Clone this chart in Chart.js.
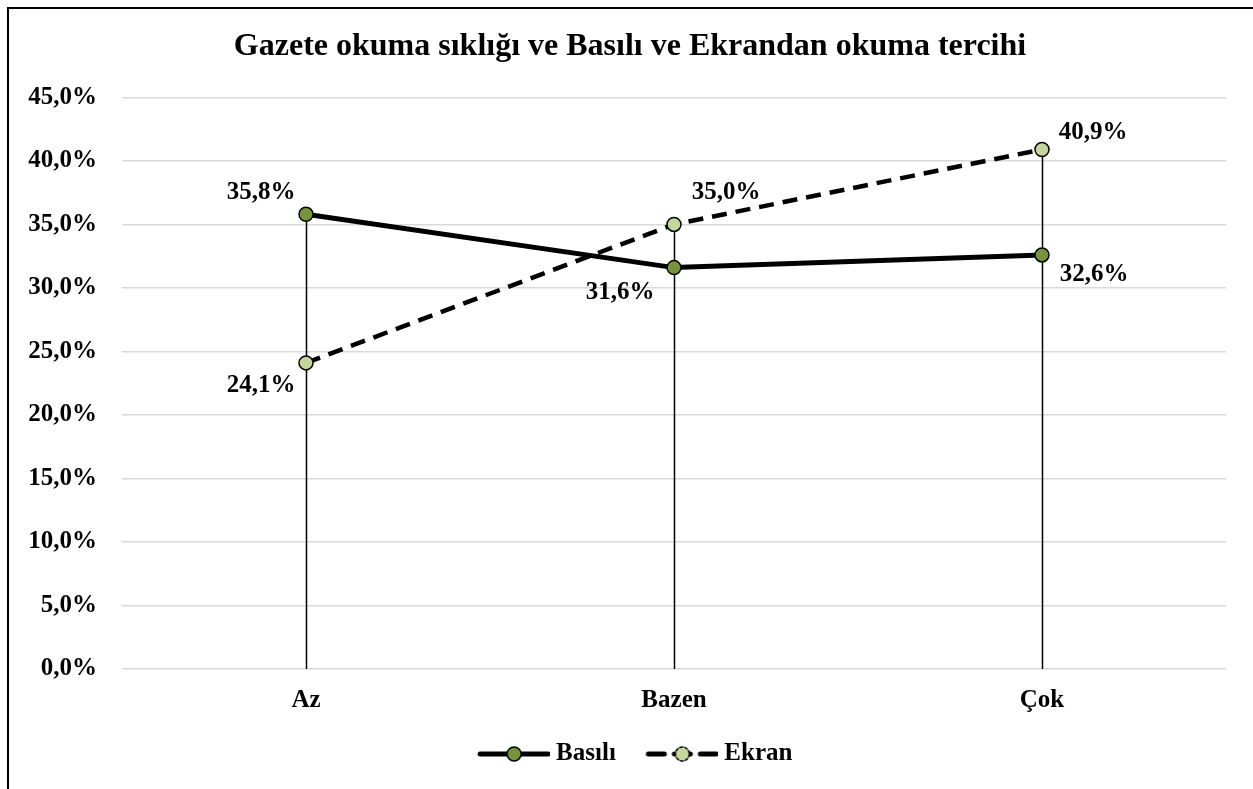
<!DOCTYPE html>
<html>
<head>
<meta charset="utf-8">
<script src="https://cdn.jsdelivr.net/npm/chart.js@4.4.1/dist/chart.umd.min.js"></script>
<style>
html, body { margin: 0; padding: 0; background: #fff; overflow: hidden; }
#kutu { position: absolute; left: 0; top: 0; width: 1253px; height: 789px; }
#cerceve { position: absolute; left: 7px; top: 7px; width: 1300px; height: 900px;
           border-left: 2px solid #000; border-top: 2px solid #000; pointer-events: none; }
</style>
</head>
<body>
<div id="kutu">
    <canvas id="lineChart" width="1253" height="789"></canvas>
    <div id="cerceve"></div>
</div>
<script>
var kategoriler = ['Az', 'Bazen', 'Çok'];
var basili      = [35.8, 31.6, 32.6];
var ekran       = [24.1, 35.0, 40.9];
var yTikleri    = [0, 5, 10, 15, 20, 25, 30, 35, 40, 45];

var yazi = '"Times New Roman", "Liberation Serif", serif';

function yuzde(v) {
    return v.toFixed(1).replace('.', ',') + '%';
}

// legend icons: line + marker like Excel (drawn at the right of a wider canvas)
function legendIkonu(dash, dolgu) {
    var c = document.createElement('canvas');
    c.width = 95; c.height = 20;
    var g = c.getContext('2d');
    var bas = 23;
    g.strokeStyle = '#000';
    g.lineWidth = 5;
    g.lineCap = 'round';
    g.setLineDash(dash);
    g.beginPath();
    g.moveTo(bas + 2, 10); g.lineTo(bas + 70, 10);
    g.stroke();
    g.setLineDash(dash.length ? [3, 2] : []);
    g.lineWidth = 1.5;
    g.fillStyle = dolgu;
    g.beginPath();
    g.arc(bas + 36, 10, 7, 0, Math.PI * 2);
    g.fill();
    g.stroke();
    return c;
}

// vertical drop lines from the highest point down to the axis
var dusenCizgiler = {
    id: 'dusenCizgiler',
    beforeDatasetsDraw: function(chart) {
        var ctx = chart.ctx;
        var alt = chart.scales.y.getPixelForValue(0);
        ctx.save();
        ctx.strokeStyle = '#000';
        ctx.lineWidth = 1.5;
        for (var j = 0; j < kategoriler.length; j++) {
            var enUst = alt;
            var x = 0;
            chart.data.datasets.forEach(function(ds, i) {
                var p = chart.getDatasetMeta(i).data[j];
                x = p.x;
                if (p.y < enUst) enUst = p.y;
            });
            ctx.beginPath();
            ctx.moveTo(Math.round(x) + 0.5, enUst);
            ctx.lineTo(Math.round(x) + 0.5, alt);
            ctx.stroke();
        }
        ctx.restore();
    }
};

// data labels with per-point offsets
var etiketler = {
    id: 'etiketler',
    afterDatasetsDraw: function(chart, args, opts) {
        var ctx = chart.ctx;
        ctx.save();
        ctx.font = 'bold 25px ' + yazi;
        ctx.fillStyle = '#000';
        ctx.textAlign = 'center';
        ctx.textBaseline = 'middle';
        chart.data.datasets.forEach(function(ds, i) {
            chart.getDatasetMeta(i).data.forEach(function(p, j) {
                var o = opts.kaydirma[i][j];
                ctx.fillText(yuzde(ds.data[j]), p.x + o[0], p.y + o[1]);
            });
        });
        ctx.restore();
    }
};

// nudge title and legend a bit to the right, like the original
var kaydir = {
    id: 'kaydir',
    afterLayout: function(chart) {
        chart.titleBlock.left += 17;
        chart.titleBlock.right += 17;
        chart.legend.left += 14;
        chart.legend.right += 14;
    }
};

var lineCanvas = document.getElementById('lineChart').getContext('2d');

new Chart(lineCanvas, {
    type: 'line',
    data: {
        labels: kategoriler,
        datasets: [
            {
                label: 'Basılı',
                data: basili,
                borderColor: '#000',
                borderWidth: 5,
                pointStyle: 'circle',
                pointRadius: 7,
                pointHoverRadius: 7,
                pointBackgroundColor: '#77933C',
                pointBorderColor: '#000',
                pointBorderWidth: 1.5,
                tension: 0
            },
            {
                label: 'Ekran',
                data: ekran,
                borderColor: '#000',
                borderWidth: 4.5,
                borderDash: [15, 9],
                pointStyle: 'circle',
                pointRadius: 7,
                pointHoverRadius: 7,
                pointBackgroundColor: '#C3D69B',
                pointBorderColor: '#000',
                pointBorderWidth: 1.5,
                tension: 0
            }
        ]
    },
    options: {
        responsive: false,
        animation: false,
        layout: { padding: { left: 0, right: 27, top: 0, bottom: 12.5 } },
        plugins: {
            title: {
                display: true,
                text: 'Gazete okuma sıklığı ve Basılı ve Ekrandan okuma tercihi',
                color: '#000',
                font: { family: yazi, size: 32, weight: 'bold', lineHeight: 1.2 },
                padding: { top: 28, bottom: 31 }
            },
            legend: {
                position: 'bottom',
                labels: {
                    color: '#000',
                    font: { family: yazi, size: 25, weight: 'bold' },
                    usePointStyle: true,
                    pointStyleWidth: 82,
                    padding: 14,
                    generateLabels: function(chart) {
                        return chart.data.datasets.map(function(ds, i) {
                            return {
                                text: ds.label,
                                pointStyle: legendIkonu(ds.borderDash ? [16, 10] : [], ds.pointBackgroundColor),
                                fillStyle: ds.pointBackgroundColor,
                                strokeStyle: '#000',
                                lineWidth: 0,
                                fontColor: '#000',
                                datasetIndex: i,
                                hidden: false
                            };
                        });
                    }
                }
            },
            tooltip: { enabled: false },
            etiketler: {
                kaydirma: [
                    [[-45, -22], [-54, 25], [52, 20]],
                    [[-45, 23], [52, -32], [51, -17]]
                ]
            }
        },
        scales: {
            x: {
                offset: true,
                grid: { display: false },
                border: { display: false },
                ticks: { color: '#000', font: { family: yazi, size: 25, weight: 'bold' }, padding: 9 },
                afterFit: function(s) { s.height = 58.5; }
            },
            y: {
                min: 0,
                max: 45,
                afterBuildTicks: function(s) {
                    s.ticks = yTikleri.map(function(v) { return { value: v }; });
                },
                grid: { color: '#d9d9d9', lineWidth: 1.5, drawTicks: false },
                border: { display: false },
                ticks: {
                    color: '#000',
                    font: { family: yazi, size: 25, weight: 'bold' },
                    padding: 25,
                    callback: function(v) { return yuzde(v); }
                },
                afterFit: function(s) { s.width = 122; }
            }
        }
    },
    plugins: [dusenCizgiler, etiketler, kaydir]
});
</script>
</body>
</html>
